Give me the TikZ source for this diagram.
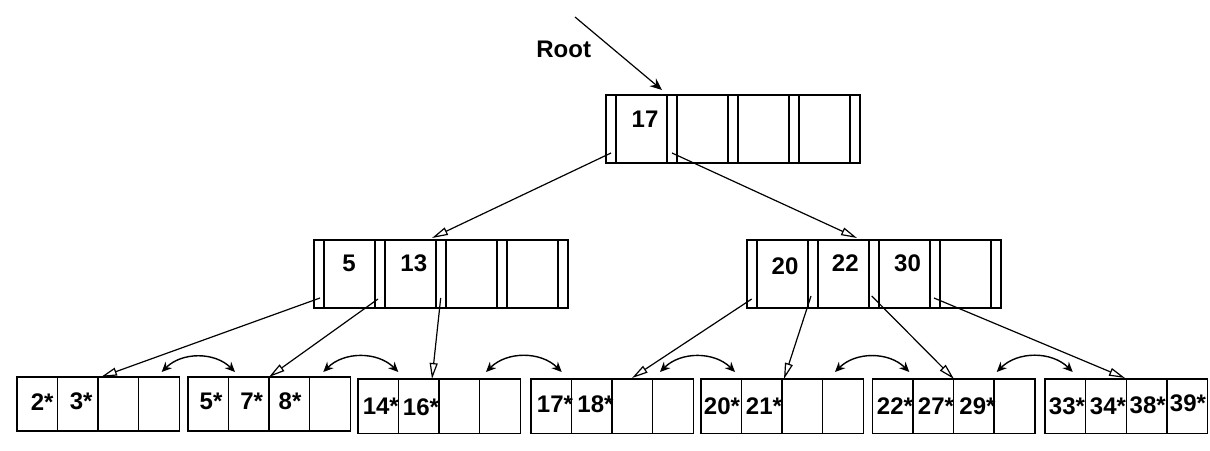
\documentclass[tikz,border=0pt]{standalone}
\usepackage{fontspec}
\setmainfont{Liberation Sans}
\usetikzlibrary{arrows.meta,positioning}

\begin{document}
\begin{tikzpicture}[x=0.5pt,y=-0.5pt,
  box/.style={draw=black,line width=0.8pt},
  ptr/.style={-{Triangle[open,length=8pt,width=4pt]},line width=0.6pt},
  sib/.style={{Stealth[length=5pt,width=4.5pt]}-{Stealth[length=5pt,width=4.5pt]},line width=0.7pt},
  key/.style={font=\bfseries\fontsize{12}{14}\selectfont,inner sep=0pt}]
  \useasboundingbox (0,0) rectangle (1210,450);
  \def\iw{254};
  \def\ih{68};
  \def\cw{40.65};
  \def\ch{54.5};

  % index nodes: pointer slot, key slot, ... %
  \foreach \n/\ix/\iy in {root/605.7/95, lft/314/240, rgt/746.7/240} {
    \draw[box] (\ix,\iy) rectangle ++(\iw,\ih);
    \foreach \d in {10,61,71,122,132,183,193,244}
      \draw[box] (\ix+\d,\iy) -- ++(0,\ih);
  }

  % leaf pages %
  \foreach \lx/\ly in {16.7/376.7, 187.7/376.7, 357.7/379, 530.7/379, 700.7/379, 872.3/379, 1045/379} {
    \draw[box] (\lx,\ly) rectangle ++(4*\cw,\ch);
    \foreach \c in {1,2,3}
      \draw[box] (\lx+\c*\cw,\ly) -- ++(0,\ch);
  }

  % keys %
  \node[key] (root) at (563.7,49.5) {Root};
  \node[key] (k17) at (645,119) {17};
  \node[key] (k5) at (349,263.3) {5};
  \node[key] (k13) at (413.8,263.3) {13};
  \node[key] (k20) at (785,265.8) {20};
  \node[key] (k22) at (845.3,262.8) {22};
  \node[key] (k30) at (907.5,262.8) {30};

  \foreach \t/\x/\y in {2/42.2/401.7, 3/81.2/401.7, 5/211/401.7, 7/251.7/401.7, 8/290/401.7,
      14/380.8/406, 16/421/407, 17/555/404, 18/595.5/404, 20/722/406, 21/764/406,
      22/895/406, 27/936/406, 29/977.5/406, 33/1067/406, 34/1108/406, 38/1147.7/405, 39/1188/403.5}
    \node[key] (l\t) at (\x,\y) {\t*};

  % pointers %
  \coordinate (rin) at (575,17);
  \coordinate (rtop) at (662,90);
  \draw[-{Stealth[length=6pt,width=5pt]},line width=0.6pt] (rin) -- (rtop);

  \coordinate (r0) at (611,153);
  \coordinate (r1) at (672,153);
  \coordinate (lfttop) at (432,238);
  \coordinate (rgttop) at (857,238);
  \draw[ptr] (r0) -- (lfttop);
  \draw[ptr] (r1) -- (rgttop);

  \coordinate (p0) at (320,298);
  \coordinate (p1) at (378,299);
  \coordinate (p2) at (440.7,298);
  \coordinate (q0) at (751.7,299);
  \coordinate (q1) at (811,296);
  \coordinate (q2) at (871.7,296);
  \coordinate (q3) at (934,298);
  \coordinate (leafA) at (101,377);
  \coordinate (leafB) at (269,377);
  \coordinate (leafC) at (432,379);
  \coordinate (leafD) at (632,378);
  \coordinate (leafE) at (784,379);
  \coordinate (leafF) at (954,379);
  \coordinate (leafG) at (1125,378);
  \draw[ptr] (p0) -- (leafA);
  \draw[ptr] (p1) -- (leafB);
  \draw[ptr] (p2) -- (leafC);
  \draw[ptr] (q0) -- (leafD);
  \draw[ptr] (q1) -- (leafE);
  \draw[ptr] (q2) -- (leafF);
  \draw[ptr] (q3) -- (leafG);

  % sibling links %
  \foreach \a/\b in {161.7/235, 323.3/398.3, 486/561.7, 660/735, 835/909.3, 996.7/1072.7}
    \draw[sib] (\a,372) to[bend left=45] (\b,372);
\end{tikzpicture}
\end{document}
